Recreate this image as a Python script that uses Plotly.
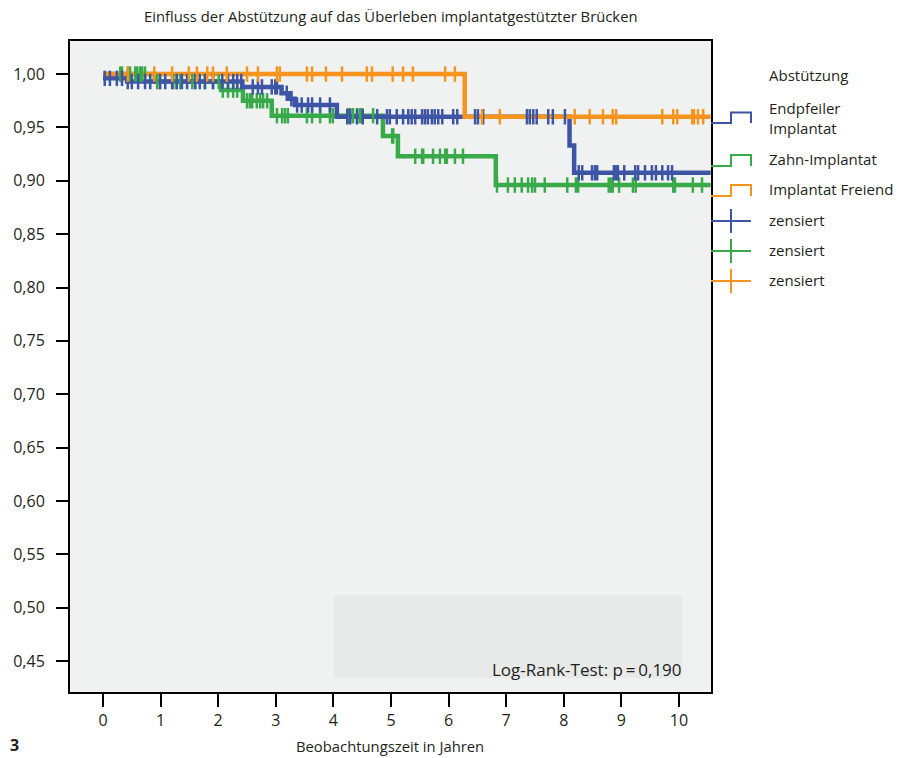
import plotly.graph_objects as go

# ---------------- data ----------------
# Kaplan-Meier step curves (time in years, survival)
t_endpfeiler = [0, 0.42, 2.42, 3.10, 3.25, 3.33, 4.06, 8.10, 8.18, 10.55]
s_endpfeiler = [0.996, 0.993, 0.988, 0.982, 0.977, 0.971, 0.960, 0.933, 0.9075, 0.9075]

t_zahn = [0, 0.90, 2.05, 2.43, 2.93, 4.86, 5.12, 6.82, 10.55]
s_zahn = [1.0, 0.993, 0.985, 0.975, 0.961, 0.942, 0.923, 0.896, 0.896]

t_freiend = [0, 6.28, 10.55]
s_freiend = [1.0, 0.960, 0.960]

# censored observations (years)
c_endpfeiler = [0.03, 0.12, 0.24, 0.33, 0.43, 0.50, 0.61, 0.73, 0.82, 0.99, 1.08, 1.20,
                1.28, 1.37, 1.46, 1.60, 1.68, 1.77, 1.91, 2.07, 2.17, 2.26, 2.33, 2.40,
                2.60, 2.69, 2.76, 2.93, 2.99, 3.02, 3.19, 3.27, 3.37, 3.45, 3.56, 3.63,
                3.77, 3.94, 4.24, 4.29, 4.41, 4.51, 4.76, 4.93, 4.98, 5.10, 5.21, 5.30,
                5.36, 5.42, 5.54, 5.59, 5.64, 5.71, 5.76, 5.82, 5.89, 6.08, 6.15, 6.46,
                6.51, 6.60, 7.36, 7.41, 7.47, 7.53, 7.73, 7.81, 8.02, 8.26, 8.32, 8.49,
                8.54, 8.58, 8.87, 8.91, 8.94, 9.05, 9.24, 9.29, 9.41, 9.53, 9.60, 9.71,
                9.81, 9.88]
c_zahn = [0.30, 0.33, 0.43, 0.47, 0.56, 0.59, 0.64, 0.68, 0.73, 0.94, 0.99, 1.22, 1.28,
          1.34, 1.55, 1.60, 1.77, 1.91, 2.01, 2.08, 2.17, 2.26, 2.33, 2.50, 2.55, 2.59,
          2.67, 2.73, 2.78, 2.85, 3.02, 3.11, 3.16, 3.21, 3.54, 3.63, 3.77, 3.94, 3.99,
          4.25, 4.29, 4.34, 4.41, 4.46, 4.50, 4.69, 5.02, 5.04, 5.42, 5.54, 5.56, 5.73,
          5.85, 5.94, 5.97, 6.11, 6.25, 6.84, 7.03, 7.15, 7.27, 7.38, 7.45, 7.50, 7.67,
          8.06, 8.21, 8.25, 8.78, 8.82, 8.85, 8.96, 9.20, 9.25, 9.90, 9.93, 10.24, 10.40]
c_freiend = [0.43, 0.89, 1.20, 1.49, 1.63, 1.81, 1.91, 2.15, 2.50, 2.69, 3.02, 3.07,
             3.54, 3.63, 3.87, 4.15, 4.58, 4.67, 5.03, 5.21, 5.38, 5.94, 6.11, 6.58,
             6.89, 8.19, 8.45, 8.68, 8.85, 8.91, 9.71, 9.90, 9.97, 10.23, 10.26, 10.33,
             10.42]

x_ticks = [0, 1, 2, 3, 4, 5, 6, 7, 8, 9, 10]
y_ticks = [0.45, 0.50, 0.55, 0.60, 0.65, 0.70, 0.75, 0.80, 0.85, 0.90, 0.95, 1.00]
y_tick_labels = ["0,45", "0,50", "0,55", "0,60", "0,65", "0,70", "0,75", "0,80",
                 "0,85", "0,90", "0,95", "1,00"]

legend_title = "Abstützung"
group_labels = ["Endpfeiler<br>Implantat", "Zahn-Implantat", "Implantat Freiend"]
censor_label = "zensiert"
p_text = "Log-Rank-Test: p\u2009=\u20090,190"

# ---------------- style ----------------
BLUE = "#3d55a4"
GREEN = "#39aa4a"
ORANGE = "#f7941e"
TXT = "#231f20"
FONT = "Open Sans"

W, H = 908, 758
L, R, T, B = 70, 711, 41, 692   # plot area in pixels


def px2paper_x(px):
    return (px - L) / (R - L)


def py2paper_y(py):
    return (B - py) / (B - T)


def surv_at(times, surv, t):
    val = surv[0]
    for ti, si in zip(times, surv):
        if ti <= t:
            val = si
    return val


fig = go.Figure()

series = [
    (t_zahn, s_zahn, c_zahn, GREEN),
    (t_endpfeiler, s_endpfeiler, c_endpfeiler, BLUE),
    (t_freiend, s_freiend, c_freiend, ORANGE),
]
for times, surv, cens, col in series:
    fig.add_trace(go.Scatter(x=times, y=surv, mode="lines", line_shape="hv",
                             line=dict(color=col, width=4.5), showlegend=False,
                             hoverinfo="skip"))
for times, surv, cens, col in series:
    fig.add_trace(go.Scatter(x=cens, y=[surv_at(times, surv, c) for c in cens],
                             mode="markers",
                             marker=dict(symbol="line-ns", size=11,
                                         line=dict(color=col, width=2.5)),
                             showlegend=False, hoverinfo="skip"))

shapes = []
annotations = []

# grey box behind log-rank text
shapes.append(dict(type="rect", xref="paper", yref="paper",
                   x0=px2paper_x(334), x1=px2paper_x(682),
                   y0=py2paper_y(678), y1=py2paper_y(595),
                   fillcolor="#e8e9e9", line=dict(width=0), layer="below"))
annotations.append(dict(text=p_text, xref="paper", yref="paper",
                        x=px2paper_x(684), y=py2paper_y(669), xanchor="right",
                        yanchor="middle", showarrow=False,
                        font=dict(family=FONT, size=17, color=TXT)))

# custom legend
gx0, gx1, gx2 = px2paper_x(711), px2paper_x(731), px2paper_x(751)
step_rows = [(BLUE, 123, 112.5), (GREEN, 166, 155), (ORANGE, 196, 185)]
for col, lo, hi in step_rows:
    ylo, yhi = py2paper_y(lo), py2paper_y(hi)
    shapes.append(dict(type="path", xref="paper", yref="paper",
                       path=f"M {gx0},{ylo} L {gx1},{ylo} L {gx1},{yhi} L {gx2},{yhi} L {gx2},{ylo}",
                       line=dict(color=col, width=2)))
cens_rows = [(BLUE, 221), (GREEN, 251), (ORANGE, 281)]
for col, cy in cens_rows:
    shapes.append(dict(type="line", xref="paper", yref="paper",
                       x0=gx0, x1=gx2, y0=py2paper_y(cy), y1=py2paper_y(cy),
                       line=dict(color=col, width=2)))
    shapes.append(dict(type="line", xref="paper", yref="paper",
                       x0=px2paper_x(731), x1=px2paper_x(731),
                       y0=py2paper_y(cy - 12), y1=py2paper_y(cy + 12),
                       line=dict(color=col, width=2)))

legend_texts = [(legend_title, 75), (group_labels[0], 118), (group_labels[1], 159),
                (group_labels[2], 189), (censor_label, 220), (censor_label, 250),
                (censor_label, 280)]
for txt, ty in legend_texts:
    annotations.append(dict(text=txt, xref="paper", yref="paper",
                            x=px2paper_x(767), y=py2paper_y(ty), xanchor="left",
                            yanchor="middle", align="left", showarrow=False,
                            font=dict(family=FONT, size=15, color=TXT)))

# title, axis title, figure number
annotations.append(dict(text="Einfluss der Abstützung auf das Überleben implantatgestützter Brücken",
                        xref="paper", yref="paper", x=px2paper_x(391), y=py2paper_y(16),
                        xanchor="center", yanchor="middle", showarrow=False,
                        font=dict(family=FONT, size=14.8, color=TXT)))
annotations.append(dict(text="Beobachtungszeit in Jahren", xref="paper", yref="paper",
                        x=px2paper_x(390), y=py2paper_y(746), xanchor="center",
                        yanchor="middle", showarrow=False,
                        font=dict(family=FONT, size=14.8, color=TXT)))
annotations.append(dict(text="<b>3</b>", xref="paper", yref="paper",
                        x=px2paper_x(8), y=py2paper_y(745), xanchor="left",
                        yanchor="middle", showarrow=False,
                        font=dict(family=FONT, size=16, color=TXT)))

fig.update_layout(
    width=W, height=H,
    margin=dict(l=L, r=W - R, t=T, b=H - B, pad=0),
    paper_bgcolor="white", plot_bgcolor="#f0f1f1",
    shapes=shapes, annotations=annotations, showlegend=False,
    font=dict(family=FONT, color=TXT),
)
fig.update_xaxes(range=[-0.573, 10.556], tickvals=x_ticks, ticks="outside",
                 ticklen=13, tickwidth=2, tickcolor="black", showline=True,
                 linewidth=2, linecolor="black", mirror=True, showgrid=False,
                 zeroline=False, tickfont=dict(family=FONT, size=16, color=TXT))
fig.update_yaxes(range=[0.421, 1.031], tickvals=y_ticks, ticktext=y_tick_labels,
                 ticks="outside", ticklen=12, tickwidth=2, tickcolor="black",
                 showline=True, linewidth=2, linecolor="black", mirror=True,
                 showgrid=False, zeroline=False, ticklabelstandoff=8,
                 tickfont=dict(family=FONT, size=16, color=TXT))

fig.write_html("out.html")
